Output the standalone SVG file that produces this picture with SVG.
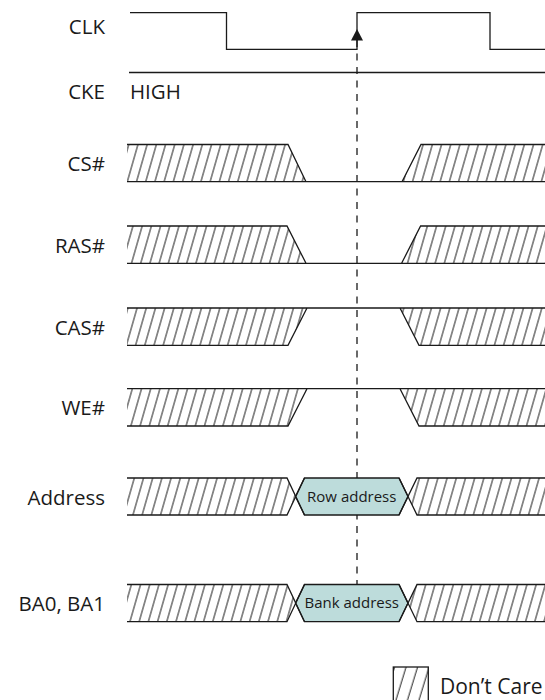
<svg xmlns="http://www.w3.org/2000/svg" width="545" height="700" viewBox="0 0 545 700">
<style>
.lbl{font-family:"Open Sans","Noto Sans","Liberation Sans",sans-serif;font-size:20.5px;fill:#1a1a1a;text-anchor:end}
.hi{text-anchor:start}
.box{font-family:"Open Sans","Noto Sans","Liberation Sans",sans-serif;font-size:15px;fill:#1a1a1a;text-anchor:middle}
.leg{font-family:"Open Sans","Noto Sans","Liberation Sans",sans-serif;font-size:21px;fill:#1a1a1a}
.ln{fill:none;stroke:#1a1a1a;stroke-width:1.3}
.ht{fill:url(#hatch);stroke:none}
.hex{fill:#bddcdb;stroke:#1a1a1a;stroke-width:1.3}
.dash{fill:none;stroke:#1a1a1a;stroke-width:1.3;stroke-dasharray:7 6.5}
</style>
<defs>
<pattern id="hatch" patternUnits="userSpaceOnUse" width="9.2" height="40" patternTransform="skewX(-16)">
<line x1="4.6" y1="-2" x2="4.6" y2="42" stroke="#1a1a1a" stroke-width="1"/>
</pattern>
<pattern id="hatchL" patternUnits="userSpaceOnUse" width="11.5" height="40" patternTransform="translate(398,0) skewX(-17)">
<line x1="5" y1="-2" x2="5" y2="42" stroke="#1a1a1a" stroke-width="1"/>
</pattern>
</defs>

<g id="connectors">
<line class="dash" x1="357" y1="40" x2="357" y2="584.5"/>
<polygon points="357,29 351,40.5 363,40.5" fill="#1a1a1a"/>
</g>

<g id="clk">
<text class="lbl" x="105" y="34.3">CLK</text>
<path class="ln" d="M130,12.7 H226.5 V49.3 H357 V12.7 H490 V49.3 H545"/>
</g>

<g id="cke">
<text class="lbl" x="105" y="99.3">CKE</text>
<text class="lbl hi" x="130" y="99.3">HIGH</text>
<path class="ln" d="M129,72.5 H545"/>
</g>

<g id="cs">
<text class="lbl" x="105" y="171">CS#</text>
<polygon class="ht" points="127,144.5 288,144.5 306,181.7 127,181.7"/>
<polygon class="ht" points="402,181.7 421,144.5 545,144.5 545,181.7"/>
<path class="ln" d="M127,144.5 H288 L306,181.7 M127,181.7 H545 M402,181.7 L421,144.5 H545"/>
</g>

<g id="ras">
<text class="lbl" x="105" y="252.6">RAS#</text>
<polygon class="ht" points="127,226 287,226 306,263.3 127,263.3"/>
<polygon class="ht" points="401.6,263.3 420.6,226 545,226 545,263.3"/>
<path class="ln" d="M127,226 H287 L306,263.3 M127,263.3 H545 M401.6,263.3 L420.6,226 H545"/>
</g>

<g id="cas">
<text class="lbl" x="105" y="334.6">CAS#</text>
<polygon class="ht" points="127,308 307,308 288,345.3 127,345.3"/>
<polygon class="ht" points="400,308 419,345.3 545,345.3 545,308"/>
<path class="ln" d="M127,345.3 H288 L307,308 M127,308 H545 M400,308 L419,345.3 H545"/>
</g>

<g id="we">
<text class="lbl" x="105" y="415.3">WE#</text>
<polygon class="ht" points="127,388.7 307,388.7 288,426 127,426"/>
<polygon class="ht" points="400,388.7 419,426 545,426 545,388.7"/>
<path class="ln" d="M127,426 H288 L307,388.7 M127,388.7 H545 M400,388.7 L419,426 H545"/>
</g>

<g id="address">
<text class="lbl" x="105" y="504.5">Address</text>
<polygon class="ht" points="127,478 287,478 295.5,496.5 287,515 127,515"/>
<polygon class="ht" points="408,496.5 417,478 545,478 545,515 417,515"/>
<polygon class="hex" points="295.5,496.5 304.5,478 399,478 408,496.5 399,515 304.5,515"/>
<path class="ln" d="M127,478 H287 L304.5,515 M127,515 H287 L304.5,478 M399,478 L417,515 H545 M399,515 L417,478 H545"/>
<text class="box" x="351.75" y="501.8">Row address</text>
</g>

<g id="ba">
<text class="lbl" x="105" y="611">BA0, BA1</text>
<polygon class="ht" points="127,584.5 287,584.5 295.5,603.1 287,621.7 127,621.7"/>
<polygon class="ht" points="408,603.1 417,584.5 545,584.5 545,621.7 417,621.7"/>
<polygon class="hex" points="295.5,603.1 304.5,584.5 399,584.5 408,603.1 399,621.7 304.5,621.7"/>
<path class="ln" d="M127,584.5 H287 L304.5,621.7 M127,621.7 H287 L304.5,584.5 M399,584.5 L417,621.7 H545 M399,621.7 L417,584.5 H545"/>
<text class="box" x="351.75" y="608.4">Bank address</text>
</g>

<g id="legend">
<rect x="393.3" y="667" width="35" height="37" fill="url(#hatchL)" stroke="#1a1a1a" stroke-width="1.3"/>
<text class="leg" x="440" y="694.3">Don’t Care</text>
</g>
</svg>
